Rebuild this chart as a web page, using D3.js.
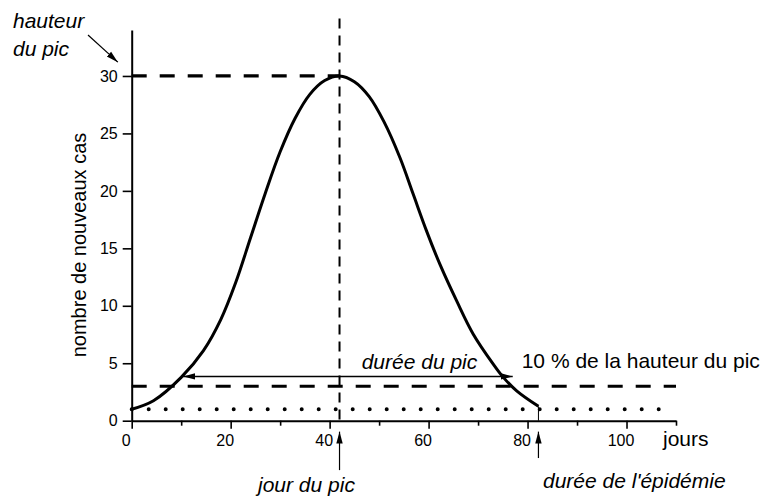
<!DOCTYPE html>
<html><head><meta charset="utf-8">
<script src="https://cdn.jsdelivr.net/npm/d3@7"></script>
<style>
html,body{margin:0;padding:0;background:#fff;}
text{font-family:"Liberation Sans",Arial,sans-serif;fill:#000;}
</style></head>
<body>
<svg id="chart" width="766" height="498"></svg>
<script>
// ---- data ----
const curveX = [0, 4.4, 10, 14.5, 18, 21, 24, 27, 30, 33, 36, 39, 42, 45, 48, 51, 54.2, 56.9, 59.6, 62.3, 65.7, 69.0, 73.1, 75.1, 77.8, 82.2];
const curveY = [1, 1.74, 3.77, 6.1, 8.8, 12.0, 15.9, 19.8, 23.4, 26.3, 28.4, 29.6, 30, 29.5, 28.2, 26.0, 22.9, 19.7, 16.5, 13.6, 10.4, 7.55, 4.9, 3.77, 2.6, 1.25];
const xMajorTicks = [0, 20, 40, 60, 80, 100];
const xMinorTicks = [10, 30, 50, 70, 90, 110];
const yTicks = [0, 5, 10, 15, 20, 25, 30];
const peakDay = 42, peakHeight = 30, tenPercent = 3, baseline = 1;
const epidemicEnd = 82.2, epidemicEndValue = 1.25;
const peakDurationStart = 10.4, peakDurationEnd = 77, peakDurationLevel = 3.85;

const svg = d3.select("#chart");
const x = d3.scaleLinear().domain([0, 110]).range([131.7, 676]);
const y = d3.scaleLinear().domain([0, 34]).range([420.7, 30]);

// markers
const defs = svg.append("defs");
defs.append("marker").attr("id","ah").attr("viewBox","0 -5 12 10")
  .attr("refX",12).attr("refY",0).attr("markerWidth",12).attr("markerHeight",10)
  .attr("markerUnits","userSpaceOnUse").attr("orient","auto-start-reverse")
  .append("path").attr("d","M0,-3.2L12,0L0,3.2Z").attr("fill","#000");

// axes
const gx = svg.append("g").attr("transform",`translate(0,${y(0)})`);
gx.call(d3.axisBottom(x).tickValues(xMinorTicks).tickSize(5).tickSizeOuter(0).tickFormat(""));
const gx2 = svg.append("g").attr("transform",`translate(0,${y(0)})`);
gx2.call(d3.axisBottom(x).tickValues(xMajorTicks).tickSize(8).tickSizeOuter(0).tickPadding(6));
gx2.select(".domain").remove();
[gx, gx2].forEach(g=>{
  g.select(".domain").attr("stroke","#000").attr("stroke-width",2);
  g.selectAll(".tick line").attr("stroke","#000").attr("stroke-width",1.6);
});
gx2.selectAll(".tick text").attr("font-size",16).attr("dx",-6).attr("font-family","Liberation Sans, Arial, sans-serif");

const gy = svg.append("g").attr("transform",`translate(${x(0)},0)`);
gy.call(d3.axisLeft(y).tickValues(yTicks).tickSize(9).tickSizeOuter(0).tickPadding(5));
gy.select(".domain").attr("stroke","#000").attr("stroke-width",2);
gy.selectAll(".tick line").attr("stroke","#000").attr("stroke-width",1.6);
gy.selectAll(".tick text").attr("font-size",16).attr("font-family","Liberation Sans, Arial, sans-serif");

// reference lines
svg.append("line").attr("x1",x(0)).attr("x2",x(peakDay)).attr("y1",y(peakHeight)).attr("y2",y(peakHeight))
  .attr("stroke","#000").attr("stroke-width",3.2).attr("stroke-dasharray","15 13");
svg.append("line").attr("x1",x(0)).attr("x2",x(110)).attr("y1",y(tenPercent)).attr("y2",y(tenPercent))
  .attr("stroke","#000").attr("stroke-width",3.2).attr("stroke-dasharray","15 13");
svg.append("line").attr("x1",x(0)).attr("x2",x(108)).attr("y1",y(baseline)).attr("y2",y(baseline))
  .attr("stroke","#000").attr("stroke-width",4).attr("stroke-linecap","round").attr("stroke-dasharray","0 17");
svg.append("line").attr("x1",x(peakDay)).attr("x2",x(peakDay)).attr("y1",y(35)).attr("y2",y(0))
  .attr("stroke","#000").attr("stroke-width",2).attr("stroke-dasharray","10 7");
svg.append("line").attr("x1",x(epidemicEnd)).attr("x2",x(epidemicEnd)).attr("y1",y(epidemicEndValue)).attr("y2",y(0))
  .attr("stroke","#000").attr("stroke-width",1);

// curve
const pts = curveX.map((d,i)=>[d, curveY[i]]);
svg.append("path").datum(pts)
  .attr("d", d3.line().x(d=>x(d[0])).y(d=>y(d[1])).curve(d3.curveCatmullRom.alpha(0.5)))
  .attr("fill","none").attr("stroke","#000").attr("stroke-width",3);

// peak-duration double arrow
svg.append("line").attr("x1",x(peakDurationStart)).attr("x2",x(peakDurationEnd))
  .attr("y1",y(peakDurationLevel)).attr("y2",y(peakDurationLevel))
  .attr("stroke","#000").attr("stroke-width",1.4)
  .attr("marker-start","url(#ah)").attr("marker-end","url(#ah)");

// annotation arrows
svg.append("line").attr("x1",88).attr("y1",35).attr("x2",x(-2.8)).attr("y2",y(31.2))
  .attr("stroke","#000").attr("stroke-width",1.2).attr("marker-end","url(#ah)");
svg.append("line").attr("x1",x(peakDay)).attr("x2",x(peakDay)).attr("y1",y(-4.3)).attr("y2",y(-0.95))
  .attr("stroke","#000").attr("stroke-width",1.2).attr("marker-end","url(#ah)");
svg.append("line").attr("x1",x(epidemicEnd)).attr("x2",x(epidemicEnd)).attr("y1",y(-3.25)).attr("y2",y(-0.95))
  .attr("stroke","#000").attr("stroke-width",1.2).attr("marker-end","url(#ah)");

// texts
const T = (t, xx, yy, italic, size=21) => svg.append("text").attr("x",xx).attr("y",yy)
  .attr("font-size",size).attr("font-style", italic ? "italic" : "normal").text(t);
T("hauteur", 13, 28, true);
T("du pic", 13, 56, true);
T("durée du pic", 361.7, 369, true);
T("10 % de la hauteur du pic", 521.7, 368, false);
T("jours", 663, 446, false);
T("jour du pic", 258, 492, true);
T("durée de l'épidémie", 543, 488, true);

svg.append("text").attr("transform","translate(86,245) rotate(-90)")
  .attr("text-anchor","middle").attr("font-size",20).text("nombre de nouveaux cas");
</script>
</body></html>
